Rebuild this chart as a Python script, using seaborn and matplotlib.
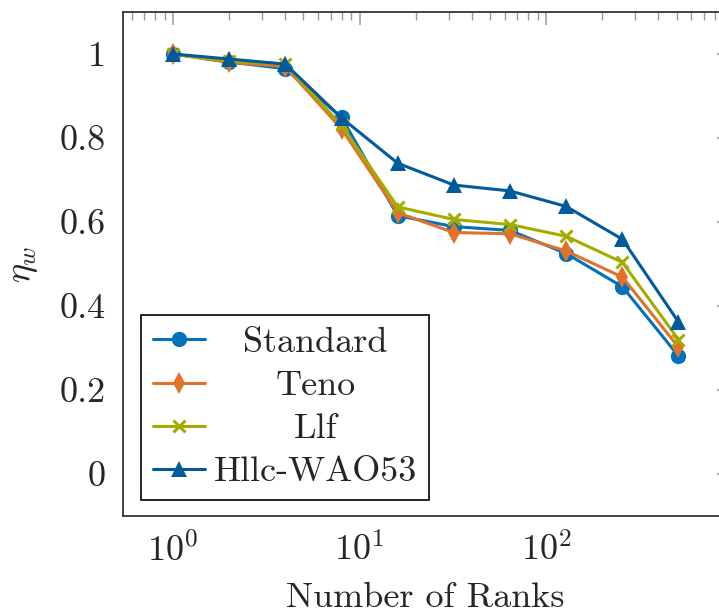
import numpy as np
import pandas as pd
import matplotlib
matplotlib.use("Agg")
import matplotlib.pyplot as plt
from matplotlib.ticker import FixedLocator, FuncFormatter, LogLocator, NullFormatter
import seaborn as sns

ranks = [1, 2, 4, 8, 16, 32, 64, 128, 256, 512]
standard = [1.0, 0.981, 0.965, 0.849, 0.615, 0.589, 0.580, 0.525, 0.446, 0.281]
teno = [1.0, 0.980, 0.970, 0.822, 0.622, 0.575, 0.572, 0.531, 0.469, 0.302]
llf = [1.0, 0.983, 0.976, 0.830, 0.636, 0.606, 0.594, 0.566, 0.504, 0.320]
hllc = [1.0, 0.988, 0.976, 0.848, 0.740, 0.688, 0.674, 0.637, 0.559, 0.362]
series_names = ["Standard", "Teno", "Llf", "Hllc-WAO53"]
y_ticks = [0, 0.2, 0.4, 0.6, 0.8, 1.0]
x_label = "Number of Ranks"
y_label = r"$\eta_w$"

colors = ["#0072BD", "#E0722A", "#A5AC00", "#005A9C"]
markers = ["o", "d", "x", "^"]
msizes = [11, 11, 8, 11]

df = pd.concat([
    pd.DataFrame({"ranks": ranks, "eta": vals, "method": name})
    for name, vals in zip(series_names, [standard, teno, llf, hllc])
])

sns.set_theme(style="white")
plt.rcParams["font.family"] = ["cmr10", "DejaVu Serif"]
plt.rcParams["mathtext.fontset"] = "cm"
plt.rcParams["axes.unicode_minus"] = False
plt.rcParams["axes.formatter.use_mathtext"] = True

fig = plt.figure(figsize=(7.19, 6.16), dpi=100)
W, H = 719, 616
ax = fig.add_axes([122.5 / W, 1 - 516 / H, (729 - 122.5) / W, (516 - 12) / H])

for name, c, m, ms in zip(series_names, colors, markers, msizes):
    sub = df[df["method"] == name]
    sns.lineplot(data=sub, x="ranks", y="eta", ax=ax, color=c, marker=m,
                 markersize=ms, markeredgewidth=2.2 if m == "x" else 0,
                 markeredgecolor=c, linewidth=2.2, label=name, estimator=None,
                 sort=False)

ax.set_xscale("log")
ax.set_xlim(10 ** -0.2709, 10 ** 2.980)
ax.set_ylim(-0.1, 1.1)
ax.yaxis.set_major_locator(FixedLocator(y_ticks))
ax.yaxis.set_major_formatter(FuncFormatter(lambda v, p: f"{v:g}"))
ax.xaxis.set_major_locator(LogLocator(base=10, numticks=10))
ax.xaxis.set_major_formatter(FuncFormatter(lambda v, p: f"$10^{{{int(round(np.log10(v)))}}}$"))
ax.xaxis.set_minor_locator(LogLocator(base=10, subs=np.arange(2, 10), numticks=20))
ax.xaxis.set_minor_formatter(NullFormatter())

fs = 26
ax.tick_params(axis="both", which="major", direction="in", length=9, width=1.1,
               color="#999999", labelsize=fs, top=True, right=True, pad=12)
ax.tick_params(axis="both", which="minor", direction="in", length=5.5, width=1.0,
               color="#999999", top=True, right=True)
for s in ax.spines.values():
    s.set_color("#333333")
    s.set_linewidth(1.3)

ax.set_xlabel(x_label, fontsize=fs, labelpad=10)
ax.set_ylabel(y_label, fontsize=fs, labelpad=14)
ax.grid(False)

leg = ax.legend(loc="lower left", bbox_to_anchor=(0.0305, 0.0317), borderaxespad=0,
                fontsize=fs, frameon=True, fancybox=False, edgecolor="black",
                framealpha=1, handlelength=1.45, handletextpad=0.25,
                labelspacing=0.3, borderpad=0.32)
leg.get_frame().set_linewidth(1.2)

# center the legend texts, like the reference
fig.canvas.draw()
r = fig.canvas.get_renderer()
widths = [t.get_window_extent(r).width for t in leg.get_texts()]
mw = max(widths)
for t, w in zip(leg.get_texts(), widths):
    t.set_x((mw - w) / 2)

fig.savefig("out.png", dpi=100)
